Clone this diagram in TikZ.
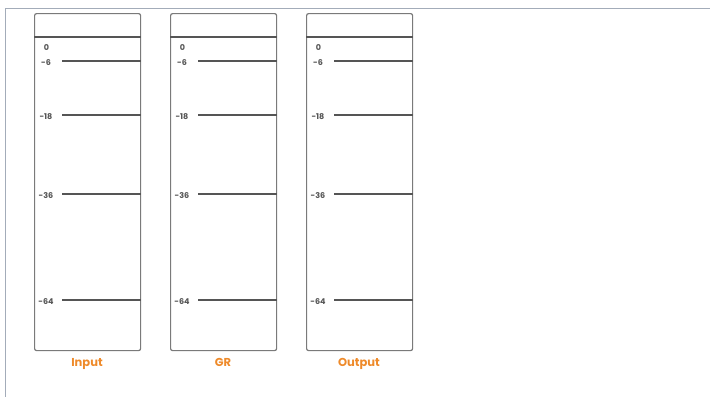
\documentclass[tikz,border=0pt]{standalone}
\usepackage{fontspec}
\setmainfont{Poppins}
\usetikzlibrary{positioning,calc}
\definecolor{framegray}{HTML}{A3ACB9}
\definecolor{boxgray}{HTML}{7A7A7A}
\definecolor{tickgray}{HTML}{555555}
\definecolor{labelorange}{HTML}{EE8A2A}

\begin{document}
\begin{tikzpicture}[x=1pt, y=-1pt,
    meter/.style={draw=boxgray, line width=1.2pt, rounded corners=2pt,
      minimum width=106pt, minimum height=337pt, inner sep=0pt, anchor=north west},
    ticklabel/.style={font=\fontsize{8}{9}\selectfont\bfseries, text=tickgray, inner sep=0pt},
    tick/.style={draw=tickgray, line width=1.2pt},
    caption/.style={font=\fontsize{11.5}{13}\selectfont\bfseries, text=labelorange, anchor=base}]
  \useasboundingbox (0,0) rectangle (710,397);
  % outer frame
  \draw[framegray, line width=0.8pt] (710,8) -- (5,8) -- (5,397);

  \foreach \x/\n/\t in {34/in/Input, 170/gr/GR, 306/out/Output} {
    \node[meter] (\n) at (\x,13) {};
    \draw[tick] (\x,37) -- (\x,37 -| \n.east);
    \node[ticklabel] (\n0) at (\x+12.5,48) {0};
    \foreach \v/\y in {6/61, 18/115, 36/194, 64/300} {
      \node[ticklabel] (\n l\v) at (\x+12,\y+2) {-\v};
      \coordinate (\n t\v) at (\x+28,\y);
      \draw[tick] (\n t\v) -- (\n t\v -| \n.east);
    }
    \node[caption] (\n cap) at (\x+53,366) {\t};
  }
\end{tikzpicture}
\end{document}
